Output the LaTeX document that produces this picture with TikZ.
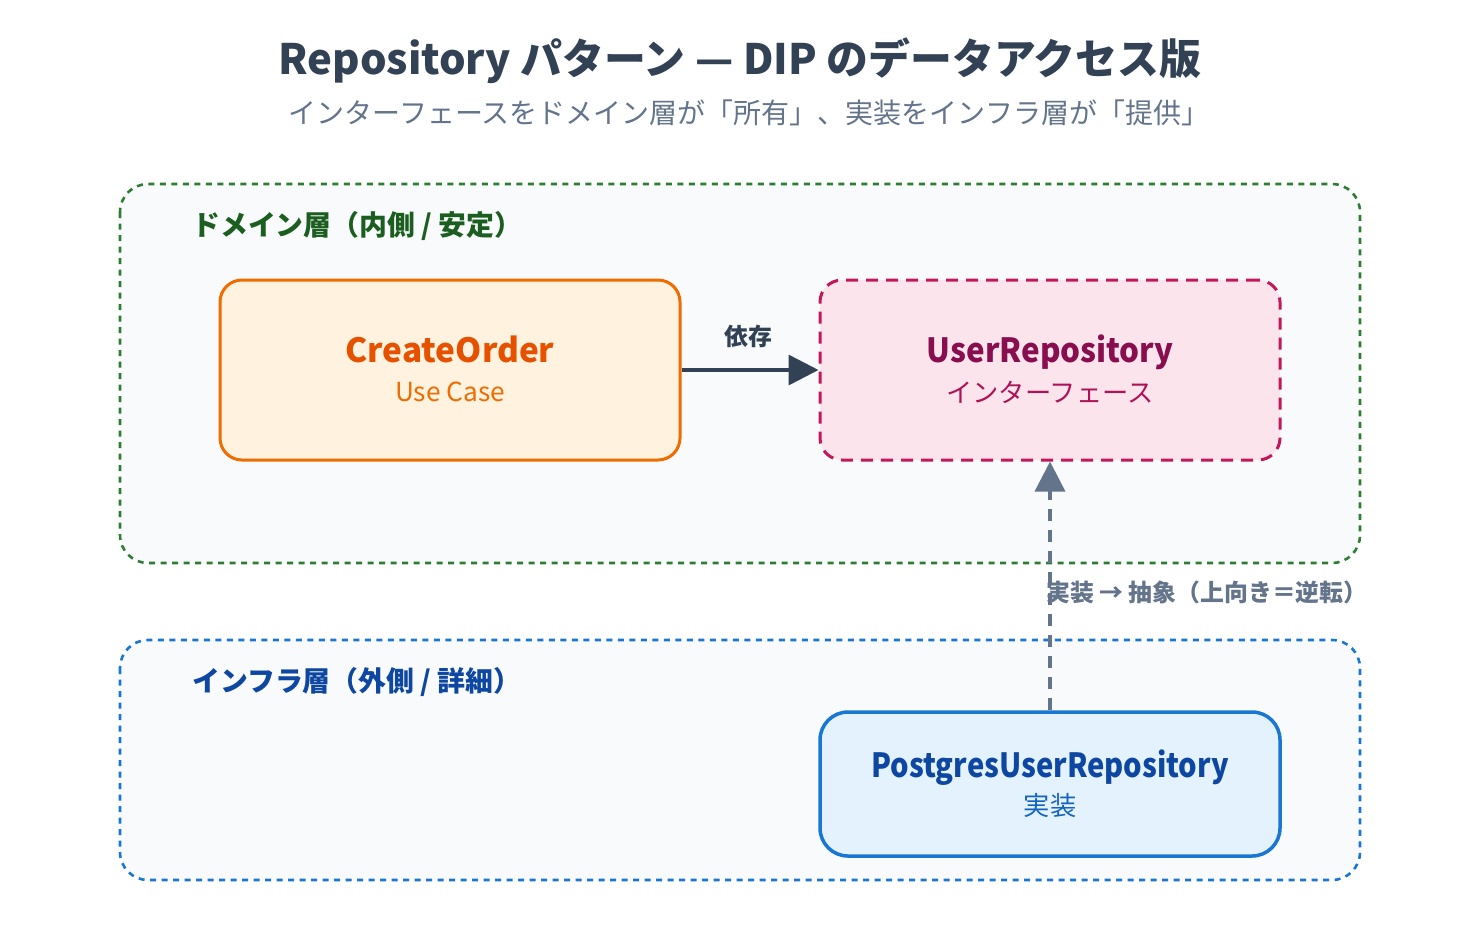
\documentclass[tikz,border=0pt]{standalone}
\usepackage{fontspec}
\setmainfont{Noto Sans CJK JP}
\usetikzlibrary{arrows.meta}
\definecolor{titlec}{HTML}{334155}
\definecolor{subc}{HTML}{64748B}
\definecolor{dgreen}{HTML}{2E7D32}
\definecolor{dgreentxt}{HTML}{1B5E20}
\definecolor{panelbg}{HTML}{F8FAFC}
\definecolor{iblue}{HTML}{1976D2}
\definecolor{ibluetxt}{HTML}{0D47A1}
\definecolor{orfill}{HTML}{FFF3E0}
\definecolor{orline}{HTML}{EF6C00}
\definecolor{ortxt}{HTML}{E65100}
\definecolor{pkfill}{HTML}{FCE4EC}
\definecolor{pkline}{HTML}{C2185B}
\definecolor{pktxt}{HTML}{880E4F}
\definecolor{pksub}{HTML}{AD1457}
\definecolor{blfill}{HTML}{E3F2FD}
\definecolor{blsub}{HTML}{1565C0}
\begin{document}
\begin{tikzpicture}[x=0.75pt,y=-0.75pt,
  panel/.style={line width=2.6*0.75pt, dash pattern=on 6*0.75pt off 5.5*0.75pt, fill=panelbg, rounded corners=28*0.75pt},
  boxnode/.style={rectangle, rounded corners=22*0.75pt, minimum width=460*0.75pt, minimum height=180*0.75pt, inner sep=0pt},
  maintxt/.style={font=\bfseries\fontsize{25pt}{29pt}\selectfont, inner sep=0pt, anchor=base},
  subtxt/.style={font=\fontsize{19.7pt}{23pt}\selectfont, inner sep=0pt},
  laytxt/.style={font=\bfseries\fontsize{20.9pt}{24pt}\selectfont, inner sep=0pt, anchor=west},
  arrtxt/.style={font=\bfseries\fontsize{17.9pt}{21pt}\selectfont, inner sep=0pt}
]
\fill[white] (0,0) rectangle (1480,940);
\useasboundingbox (0,0) rectangle (1480,940);

% title
\node[font=\bfseries\fontsize{31.4pt}{36pt}\selectfont, text=titlec, inner sep=0pt] (title) at (740,61) {Repository パターン — DIP のデータアクセス版};
\node[font=\fontsize{21pt}{25pt}\selectfont, text=subc, inner sep=0pt] (subtitle) at (749,113) {インターフェースをドメイン層が「所有」、実装をインフラ層が「提供」};

% panels
\draw[panel, draw=dgreen] (120,184) rectangle (1360,563);
\node[laytxt, text=dgreentxt] (domlabel) at (192,226) {ドメイン層（内側 / 安定）};
\draw[panel, draw=iblue] (120,640) rectangle (1360,880);
\node[laytxt, text=ibluetxt] (inflabel) at (192,682) {インフラ層（外側 / 詳細）};

% boxes
\node[boxnode, draw=orline, fill=orfill, line width=3*0.75pt] (co) at (450,370) {};
\node[maintxt, text=ortxt] (cot) at (450,362) {CreateOrder};
\node[subtxt, text=orline] (cos) at (450,392) {Use Case};

\node[boxnode, draw=pkline, fill=pkfill, line width=3*0.75pt, dash pattern=on 12*0.75pt off 8*0.75pt] (ur) at (1050,370) {};
\node[maintxt, text=pktxt] (urt) at (1050,362) {\scalebox{0.94}[1]{UserRepository}};
\node[subtxt, text=pksub] (urs) at (1050,392) {インターフェース};

\node[boxnode, draw=iblue, fill=blfill, line width=3.5*0.75pt, minimum height=144*0.75pt, rounded corners=28*0.75pt] (pg) at (1050,784) {};
\node[maintxt, text=ibluetxt] (pgt) at (1050,777) {\scalebox{0.875}[1]{PostgresUserRepository}};
\node[subtxt, text=blsub] (pgs) at (1050,806) {実装};

% arrows
\draw[titlec, line width=3.5*0.75pt, -{Triangle[length=30*0.75pt,width=30*0.75pt]}] (co.east) -- (ur.west);
\node[arrtxt, text=titlec] (deplabel) at (748,336) {依存};

\draw[subc, line width=3.5*0.75pt, dash pattern=on 12*0.75pt off 9*0.75pt, -{Triangle[length=30*0.75pt,width=30*0.75pt]}] (pg.north) -- (ur.south);
\node[arrtxt, text=subc, anchor=west] (implabel) at (1046,592) {実装 → 抽象（上向き＝逆転）};
\end{tikzpicture}
\end{document}
